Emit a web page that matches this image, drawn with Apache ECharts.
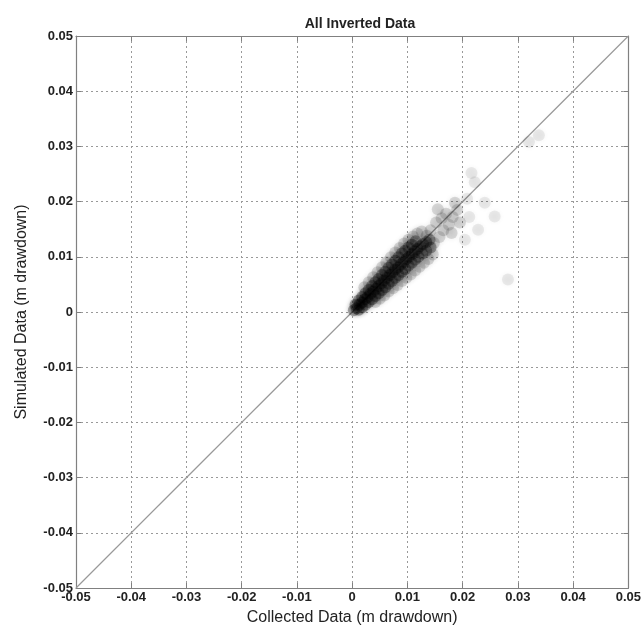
<!DOCTYPE html>
<html>
<head>
<meta charset="utf-8">
<script src="https://cdn.jsdelivr.net/npm/echarts@6/dist/echarts.min.js"></script>
<style>
  html, body { margin: 0; padding: 0; background: #fff; }
  #chart { width: 644px; height: 631px; }
</style>
</head>
<body>
<div id="chart"></div>
<script>
// axis ticks (m drawdown)
const tickMin = -0.05
const tickMax = 0.05
const tickStep = 0.01

// 1:1 reference line
const oneToOne = [[-0.05, -0.05], [0.05, 0.05]]

// dark core of the cloud, [collected, simulated]
const corePoints = [
  [0.0003, 0.0003], [0.0008, 0.0007], [0.0013, 0.0013], [0.0018, 0.0017], [0.0023, 0.0023],
  [0.0028, 0.0027], [0.0033, 0.0033], [0.0038, 0.0037], [0.0043, 0.0042], [0.0048, 0.0047],
  [0.0053, 0.0052], [0.0058, 0.0057], [0.0063, 0.0062], [0.0068, 0.0067], [0.0073, 0.0072],
  [0.0078, 0.0077], [0.0083, 0.0081], [0.0088, 0.0086], [0.0093, 0.0091], [0.0098, 0.0096],
  [0.0103, 0.01], [0.0108, 0.0105], [0.0113, 0.011], [0.0118, 0.0114], [0.0123, 0.0119],
  [0.0128, 0.0123], [0.0134, 0.0127], [0.014, 0.0131],
  [0.0006, 0.0013], [0.0012, 0.0021], [0.0018, 0.0027], [0.0024, 0.0034], [0.003, 0.004],
  [0.0036, 0.0047], [0.0042, 0.0054], [0.0048, 0.006], [0.0054, 0.0067], [0.006, 0.0073],
  [0.0066, 0.008], [0.0072, 0.0086], [0.0078, 0.0093], [0.0084, 0.0099], [0.009, 0.0106],
  [0.0096, 0.0111], [0.0102, 0.0117], [0.0108, 0.0122], [0.0115, 0.0128],
  [0.0012, 0.0004], [0.0018, 0.0008], [0.0024, 0.0013], [0.003, 0.0018], [0.0036, 0.0023],
  [0.0042, 0.0029], [0.0048, 0.0034], [0.0054, 0.004], [0.006, 0.0045], [0.0066, 0.0051],
  [0.0072, 0.0056], [0.0078, 0.0062], [0.0084, 0.0067], [0.009, 0.0073], [0.0096, 0.0078],
  [0.0102, 0.0084], [0.0108, 0.0089], [0.0114, 0.0095], [0.012, 0.01], [0.0127, 0.0106],
  [0.0134, 0.0111], [0.0142, 0.0117]
]

// lighter halo around the core
const haloPoints = [
  [0.0022, 0.0045], [0.003, 0.0054], [0.0038, 0.0063], [0.0046, 0.0072], [0.0054, 0.0081],
  [0.0062, 0.009], [0.007, 0.0099], [0.0078, 0.0108], [0.0086, 0.0116], [0.0094, 0.0124],
  [0.0102, 0.0131], [0.011, 0.0137], [0.0118, 0.0142], [0.0126, 0.0146],
  [0.0042, 0.0018], [0.005, 0.0024], [0.0058, 0.003], [0.0066, 0.0037], [0.0074, 0.0043],
  [0.0082, 0.0049], [0.009, 0.0056], [0.0098, 0.0062], [0.0106, 0.0068], [0.0114, 0.0075],
  [0.0122, 0.0082], [0.013, 0.0089], [0.0138, 0.0096], [0.0146, 0.0104],
  [0.0135, 0.0138], [0.0142, 0.0148], [0.0148, 0.0125], [0.0152, 0.0162], [0.0155, 0.0186],
  [0.0158, 0.0136], [0.0162, 0.017], [0.0165, 0.0148], [0.017, 0.0178], [0.0175, 0.0158],
  [0.018, 0.0143], [0.0186, 0.0198], [0.0182, 0.0172], [0.019, 0.0185], [0.0195, 0.0162]
]

// faint scattered points
const sparsePoints = [
  [0.0204, 0.0131], [0.0216, 0.0252], [0.0222, 0.0235], [0.0228, 0.0149], [0.024, 0.0198],
  [0.0258, 0.0173], [0.0282, 0.0059], [0.0208, 0.0205], [0.0338, 0.032], [0.032, 0.0308],
  [0.0212, 0.0172]
]

const labelFmt = (v) => (Math.abs(v) < 1e-9 ? '0' : String(+v.toFixed(2)))

const chart = echarts.init(document.getElementById('chart'))

const baseAxis = {
  type: 'value',
  min: tickMin,
  max: tickMax,
  interval: tickStep,
  axisLine: { show: true, onZero: false, lineStyle: { color: '#808080', width: 1.2 } },
  axisTick: { show: true, inside: true, length: 5, lineStyle: { color: '#808080' } },
  splitLine: { show: true, lineStyle: { color: '#999', type: [2, 3], width: 1 } },
  axisLabel: {
    color: '#222',
    fontFamily: 'Liberation Sans',
    fontSize: 13,
    fontWeight: 'bold',
    formatter: labelFmt,
  },
}

const dotStyle = (op) => ({
  color: '#000',
  opacity: op,
  shadowBlur: 5,
  shadowColor: 'rgba(0,0,0,0.6)',
})

chart.setOption({
  animation: false,
  backgroundColor: '#fff',
  title: {
    text: 'All Inverted Data',
    left: 355,
    top: 12,
    textAlign: 'center',
    textStyle: { fontFamily: 'Liberation Sans', fontSize: 14, fontWeight: 'bold', color: '#222' },
  },
  grid: { left: 76, right: 13, top: 36, bottom: 39 },
  xAxis: [
    {
      ...baseAxis,
      position: 'bottom',
      axisLabel: { ...baseAxis.axisLabel, margin: 3 },
      name: 'Collected Data (m drawdown)',
      nameLocation: 'middle',
      nameGap: 22,
      nameTextStyle: { fontFamily: 'Liberation Sans', fontSize: 16, color: '#222' },
    },
    {
      ...baseAxis,
      position: 'top',
      axisLabel: { show: false },
      splitLine: { show: false },
    },
  ],
  yAxis: [
    {
      ...baseAxis,
      position: 'left',
      axisLabel: { ...baseAxis.axisLabel, margin: 3 },
      name: 'Simulated Data (m drawdown)',
      nameLocation: 'middle',
      nameGap: 46,
      nameTextStyle: { fontFamily: 'Liberation Sans', fontSize: 16, color: '#222' },
    },
    {
      ...baseAxis,
      position: 'right',
      axisLabel: { show: false },
      splitLine: { show: false },
    },
  ],
  series: [
    {
      type: 'line',
      data: oneToOne,
      symbol: 'none',
      lineStyle: { color: '#999', width: 1.2 },
      silent: true,
      z: 1,
    },
    {
      type: 'scatter',
      data: sparsePoints,
      symbolSize: 12,
      itemStyle: dotStyle(0.07),
      z: 2,
    },
    {
      type: 'scatter',
      data: haloPoints,
      symbolSize: 12,
      itemStyle: dotStyle(0.13),
      z: 3,
    },
    {
      type: 'scatter',
      data: corePoints,
      symbolSize: 12,
      itemStyle: dotStyle(0.3),
      z: 4,
    },
  ],
})
</script>
</body>
</html>
